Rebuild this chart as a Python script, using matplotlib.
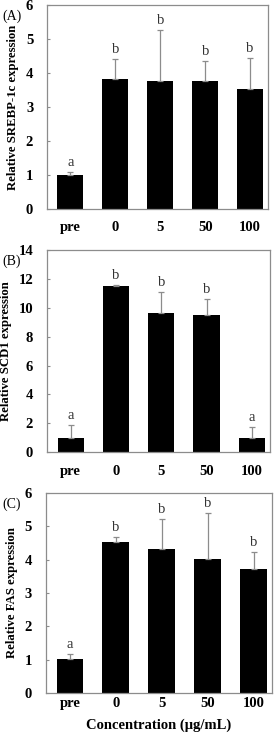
import matplotlib
matplotlib.use('Agg')
import matplotlib.pyplot as plt
import numpy as np

plt.rcParams['font.family'] = ['Liberation Serif', 'DejaVu Serif']

categories = ['pre', '0', '5', '50', '100']

srebp_mean = [1.0, 3.82, 3.78, 3.76, 3.52]
srebp_err = [0.08, 0.60, 1.50, 0.59, 0.91]
srebp_sig = ['a', 'b', 'b', 'b', 'b']

scd1_mean = [1.0, 11.5, 9.62, 9.52, 1.02]
scd1_err = [0.90, 0.05, 1.50, 1.08, 0.73]
scd1_sig = ['a', 'b', 'b', 'b', 'a']

fas_mean = [1.02, 4.52, 4.33, 4.02, 3.72]
fas_err = [0.15, 0.15, 0.90, 1.37, 0.52]
fas_sig = ['a', 'b', 'b', 'b', 'b']

panels = [
    ('(A)', 'Relative SREBP-1c expression', srebp_mean, srebp_err, srebp_sig,
     6, 1, [0.170, 0.715, 0.798, 0.278], 9),
    ('(B)', 'Relative SCD1 expression', scd1_mean, scd1_err, scd1_sig,
     14, 2, [0.170, 0.383, 0.805, 0.276], 9),
    ('(C)', 'Relative FAS expression', fas_mean, fas_err, fas_sig,
     6, 1, [0.166, 0.0546, 0.816, 0.273], 3),
]

fig = plt.figure(figsize=(2.77, 7.33), dpi=100)
x = np.arange(len(categories))
grey = '#8c8c8c'

for tag, ylabel, mean, err, sig, ymax, step, pos, xpad in panels:
    ax = fig.add_axes(pos)
    ax.bar(x, mean, width=0.58, color='black', zorder=2)
    ax.errorbar(x, mean, yerr=[np.zeros(len(err)), err], fmt='none',
                ecolor=grey, elinewidth=0.9, capsize=2.5, capthick=0.9, zorder=3)
    off = ymax * 0.015
    for xi, m, e, s in zip(x, mean, err, sig):
        ax.text(xi, m + e + off, s, ha='center', va='bottom', fontsize=10.5,
                color='#333333')
    ax.set_xlim(-0.52, 4.4)
    ax.set_ylim(0, ymax)
    ax.set_yticks(np.arange(0, ymax + 0.1, step))
    ax.set_xticks(x)
    ax.set_xticklabels(categories)
    ax.tick_params(axis='x', length=0, pad=xpad, labelsize=10.5)
    ax.tick_params(axis='y', direction='in', length=2.5, color=grey, pad=10,
                   labelsize=10.5)
    for lbl in ax.get_xticklabels() + ax.get_yticklabels():
        lbl.set_fontweight('bold')
    for sp in ax.spines.values():
        sp.set_color(grey)
        sp.set_linewidth(0.9)
    ax.set_ylabel(ylabel, fontsize=9.2, fontweight='bold', labelpad=5)
    fig.text(0.008, pos[1] + pos[3] - 0.006, tag, fontsize=10, va='top', ha='left')

fig.text(0.166 + 0.816 / 2, 0.001, 'Concentration (\u03bcg/mL)', ha='center',
         va='bottom', fontsize=10.5, fontweight='bold')

fig.savefig('out.png', dpi=100)
